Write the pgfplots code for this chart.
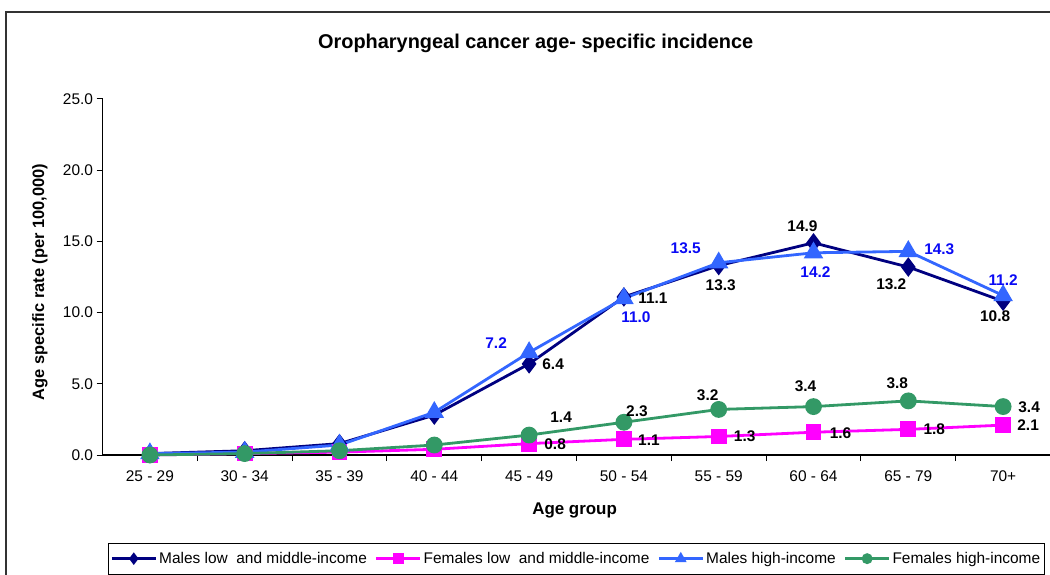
\documentclass[border=0pt]{standalone}
\usepackage{fontspec}
\setmainfont{Liberation Sans}
\usepackage{pgfplots}
\pgfplotsset{compat=1.18}
\usepackage{pgfplotstable}

\definecolor{cNavy}{RGB}{0,0,128}
\definecolor{cMag}{RGB}{255,0,255}
\definecolor{cBlue}{RGB}{51,102,255}
\definecolor{cGreen}{RGB}{51,153,102}
\definecolor{cLab}{RGB}{10,10,245}

% Males low and middle-income
\pgfplotstableread{
x y dx dy
0 0.1 0 0
1 0.3 0 0
2 0.8 0 0
3 2.8 0 0
4 6.4 24 0
5 11.1 29 -1
6 13.3 2 -20
7 14.9 -11 17
8 13.2 -17 -17
9 10.8 -8 -15
}\mlmi
% Females low and middle-income
\pgfplotstableread{
x y dx dy
0 0.0 0 0
1 0.1 0 0
2 0.2 0 0
3 0.4 0 0
4 0.8 26 -1
5 1.1 25 -1
6 1.3 26 0
7 1.6 27 -1
8 1.8 26 0
9 2.1 25 0
}\flmi
% Males high-income
\pgfplotstableread{
x y dx dy
0 0.1 0 0
1 0.2 0 0
2 0.7 0 0
3 3.0 0 0
4 7.2 -33 9
5 11.0 12 -19
6 13.5 -33 15
7 14.2 2 -19
8 14.3 31 2
9 11.2 0 15
}\mhi
% Females high-income
\pgfplotstableread{
x y dx dy
0 0.0 0 0
1 0.1 0 0
2 0.3 0 0
3 0.7 0 0
4 1.4 32 18
5 2.3 13 11
6 3.2 -11 14
7 3.4 -8 20
8 3.8 -11 18
9 3.4 26 -1
}\fhi

\pgfplotsset{
  lab/.style={draw=none, mark=none, forget plot,
    skip coords between index={0}{4},
    point meta=y,
    visualization depends on={\thisrow{dx}\as\dx},
    visualization depends on={\thisrow{dy}\as\dy},
    nodes near coords={\pgfmathprintnumber[fixed,fixed zerofill,precision=1]{\pgfplotspointmeta}},
    nodes near coords style={anchor=center, xshift=\dx bp, yshift=\dy bp,
      font=\bfseries\fontsize{15.5}{18}\selectfont, inner sep=0pt, text=#1}},
}

\begin{document}
\begin{tikzpicture}
\useasboundingbox (0,0) rectangle (1050bp,575bp);
\draw[line width=1.4bp, black!80] (6bp,-10bp) -- (6bp,563bp) -- (1070bp,563bp);
\begin{axis}[
  at={(102.5bp,120bp)}, anchor=south west,
  scale only axis, width=948bp, height=356bp,
  clip=false,
  xmin=-0.5, xmax=9.5, ymin=0, ymax=25,
  axis lines=left,
  axis line style={-, line width=1.1bp, black},
  tick align=outside,
  xtick={0,...,9},
  xticklabels={25 - 29, 30 - 34, 35 - 39, 40 - 44, 45 - 49, 50 - 54, 55 - 59, 60 - 64, 65 - 79, 70+},
  major x tick style={draw=none},
  minor xtick={0.5,1.5,...,8.5},
  minor tick length=6bp,
  major tick length=6bp,
  tick style={line width=1bp, black},
  ytick={0,5,...,25},
  yticklabel style={/pgf/number format/.cd, fixed, fixed zerofill, precision=1},
  /pgf/number format/assume math mode=true,
  tick label style={font=\fontsize{15.5}{18}\selectfont},
  xticklabel style={yshift=-6bp},
  title={\bfseries Oropharyngeal cancer age- specific incidence},
  title style={at={(0.457,1.138)}, anchor=center, font=\fontsize{20}{24}\selectfont},
  xlabel={\bfseries Age group},
  xlabel style={at={(0.498,-0.1545)}, anchor=center, font=\fontsize{17}{20}\selectfont},
  ylabel={\bfseries Age specific rate (per 100,000)},
  ylabel style={at={(-0.0659,0.486)}, anchor=center, rotate=0, font=\fontsize{16.5}{20}\selectfont},
  legend columns=4,
  legend cell align=left,
  legend style={at={(0.0058,-0.247)}, anchor=north west, draw=black, line width=0.8bp,
    font=\fontsize{15.5}{18}\selectfont, inner xsep=2bp, inner ysep=7bp,
    /tikz/every even column/.append style={column sep=6bp}},
  legend image code/.code={\draw[mark repeat=2,mark phase=2,#1,mark size=4bp] plot coordinates {(0bp,0bp) (22bp,0bp) (44bp,0bp)};},
]
\addplot[cNavy, line width=2.8bp, mark=diamond*, mark size=7.5bp, mark options={solid, fill=cNavy}] table[x=x,y=y] {\mlmi};
\addlegendentry{Males low~ and middle-income}
\addplot[cMag, line width=2.8bp, mark=square*, mark size=6.5bp, mark options={solid, fill=cMag}] table[x=x,y=y] {\flmi};
\addlegendentry{Females low~ and middle-income}
\addplot[cBlue, line width=2.8bp, mark=triangle*, mark size=8.5bp, mark options={solid, fill=cBlue}] table[x=x,y=y] {\mhi};
\addlegendentry{Males high-income}
\addplot[cGreen, line width=2.8bp, mark=*, mark size=7bp, mark options={solid, fill=cGreen}] table[x=x,y=y] {\fhi};
\addlegendentry{Females high-income}

\addplot[lab=black] table[x=x,y=y] {\mlmi};
\addplot[lab=black] table[x=x,y=y] {\flmi};
\addplot[lab=cLab] table[x=x,y=y] {\mhi};
\addplot[lab=black] table[x=x,y=y] {\fhi};
\end{axis}
\end{tikzpicture}
\end{document}
